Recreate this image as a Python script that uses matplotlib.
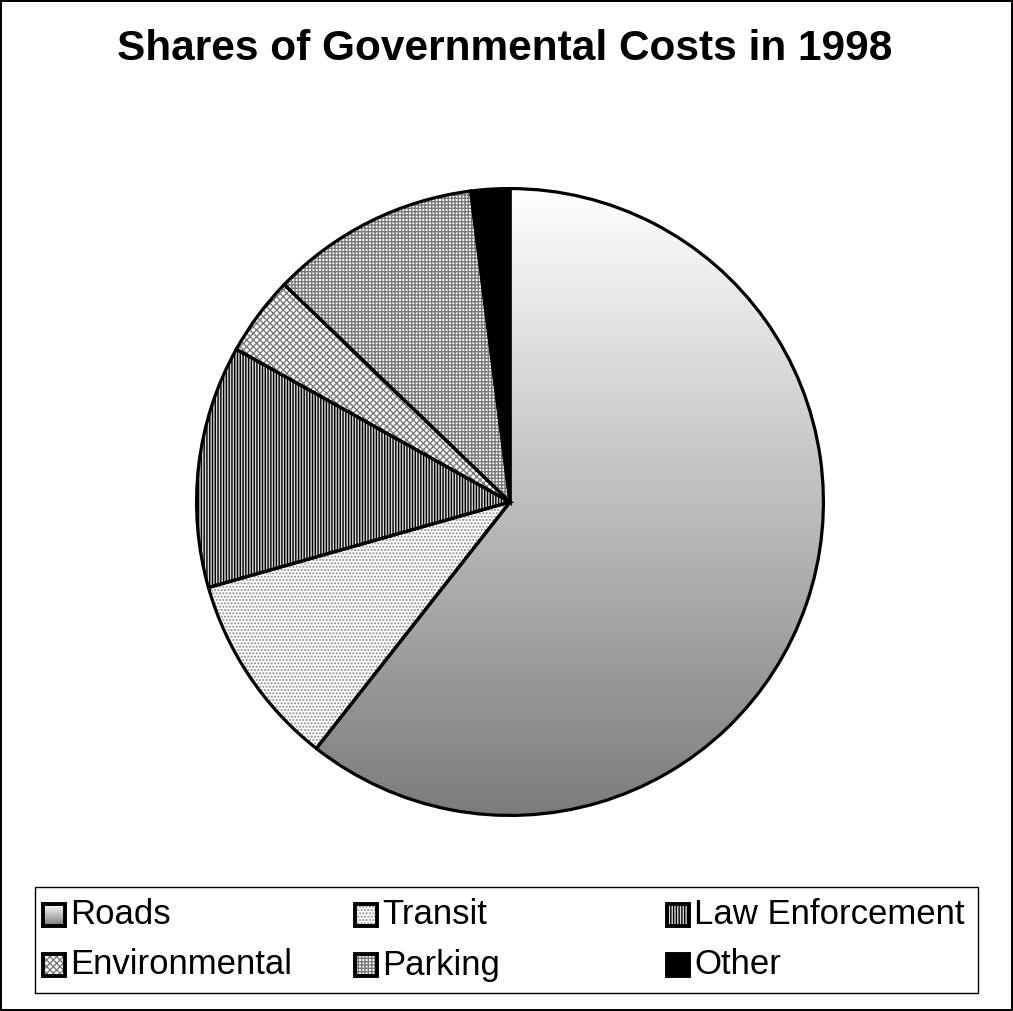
import matplotlib.pyplot as plt
import numpy as np
from matplotlib.patches import Rectangle
from matplotlib.colors import LinearSegmentedColormap

plt.rcParams['font.family'] = ['Liberation Sans', 'DejaVu Sans']

title = "Shares of Governmental Costs in 1998"
categories = ["Roads", "Transit", "Law Enforcement", "Environmental", "Parking", "Other"]
shares = [60.6, 10.0, 12.5, 4.1, 10.8, 2.0]

# fill styles per slice: (facecolor, hatch, hatch colour)
faces = ["none", "white", "#d8d8d8", "white", "white", "black"]
hatches = [None, ".....", "||||||", "xxxxx", "+++++", None]
hatch_cols = ["black", "#8c8c8c", "black", "#7a7a7a", "#7a7a7a", "black"]

W, H = 1013, 1011
fig = plt.figure(figsize=(W / 100, H / 100), dpi=100)
fig.patch.set_edgecolor("black")
fig.patch.set_linewidth(1.5)

cx, cy, r = 510, 502, 315
ax = fig.add_axes([(cx - r) / W, (H - cy - r) / H, 2 * r / W, 2 * r / H])

grad = LinearSegmentedColormap.from_list("g", ["white", "#7c7c7c"])

wedges, _ = ax.pie(shares, startangle=90, counterclock=False, radius=1,
                   wedgeprops=dict(linewidth=0))
for w, fc, hc, hcol in zip(wedges, faces, hatches, hatch_cols):
    w.set_facecolor(fc)
    if hc:
        w.set_hatch(hc)
        w.set_edgecolor(hcol)
        w.set_linewidth(0)

# Roads gets a vertical gradient clipped to its wedge
img = ax.imshow(np.linspace(0, 1, 256).reshape(-1, 1), cmap=grad, aspect="auto",
                extent=[-1, 1, -1, 1], origin="upper", zorder=0.5)
img.set_clip_path(wedges[0])

# outlines
ax.pie(shares, startangle=90, counterclock=False, radius=1,
       wedgeprops=dict(fill=False, edgecolor="black", linewidth=2.3))
ax.set_xlim(-1.005, 1.005)
ax.set_ylim(-1.005, 1.005)
ax.set_aspect("equal")
ax.axis("off")

fig.text(505 / W, 1 - 49 / H, title, ha="center", va="center",
         fontsize=30.5, fontweight="bold")

# legend box
fig.add_artist(Rectangle((35 / W, 1 - 993 / H), (978 - 35) / W, (993 - 887) / H,
                         transform=fig.transFigure, fill=False,
                         edgecolor="black", linewidth=1))

col_x = [43, 355, 667]
row_y = [915, 965]
ms = 22
for i, lab in enumerate(categories):
    px = col_x[i % 3]
    py = row_y[i // 3]
    if i == 0:
        lax = fig.add_axes([px / W, 1 - (py + ms / 2) / H, ms / W, ms / H])
        lax.imshow(np.linspace(0, 1, 32).reshape(-1, 1), cmap=grad, aspect="auto")
        lax.set_xticks([])
        lax.set_yticks([])
        for s in lax.spines.values():
            s.set_linewidth(2.8)
    else:
        rect = Rectangle((px / W, 1 - (py + ms / 2) / H), ms / W, ms / H,
                         transform=fig.transFigure, facecolor=faces[i],
                         edgecolor=hatch_cols[i], hatch=hatches[i], linewidth=0)
        fig.add_artist(rect)
        fig.add_artist(Rectangle((px / W, 1 - (py + ms / 2) / H), ms / W, ms / H,
                                 transform=fig.transFigure, fill=False,
                                 edgecolor="black", linewidth=2.8))
    fig.text((px + ms + 5) / W, 1 - py / H, lab, ha="left", va="center", fontsize=25)

fig.savefig("out.png", dpi=100, edgecolor=fig.get_edgecolor())
